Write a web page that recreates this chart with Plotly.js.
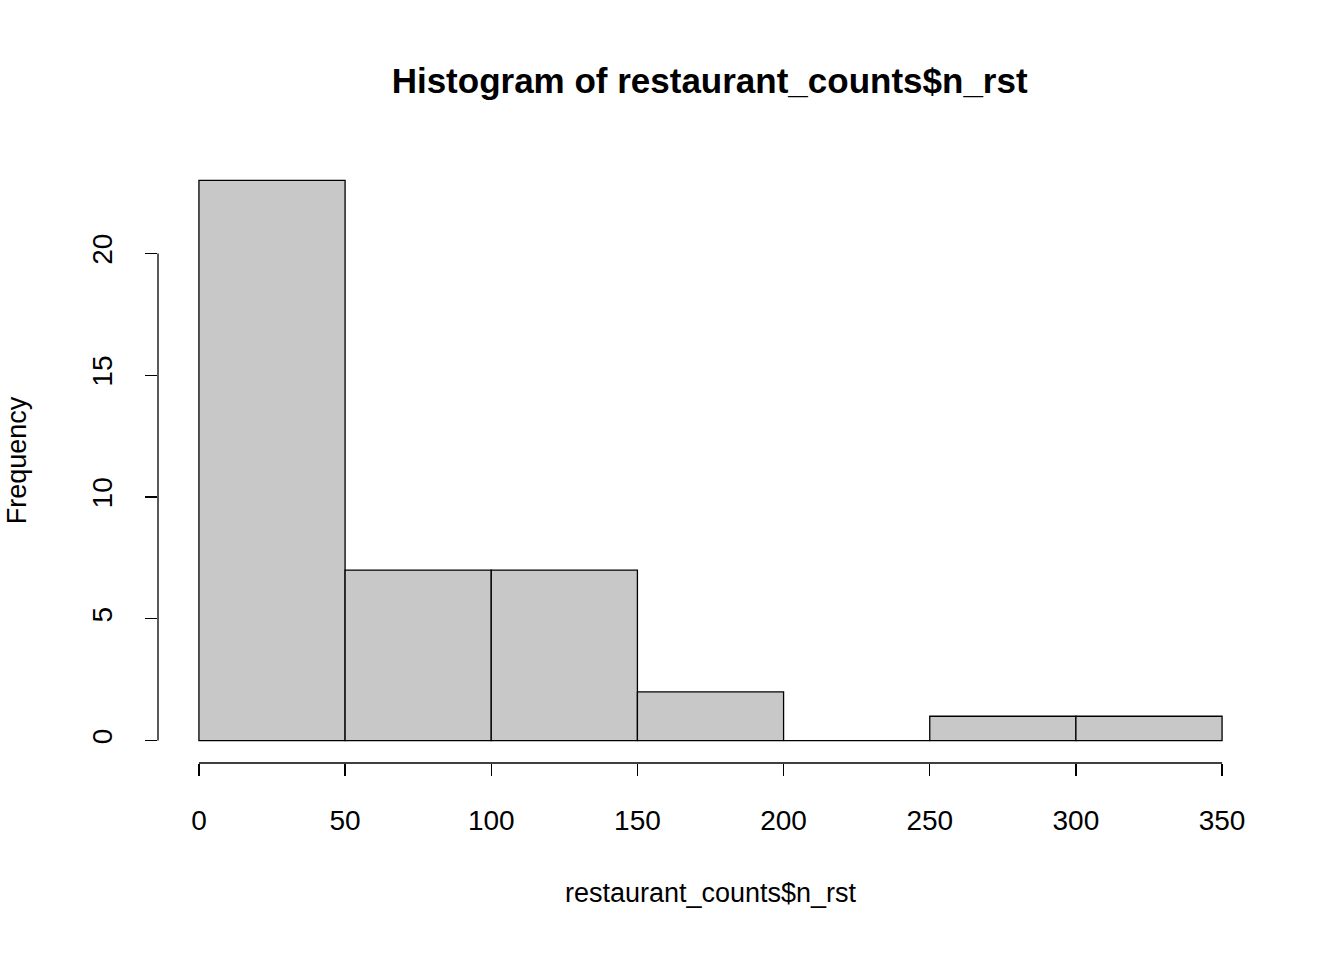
<!DOCTYPE html>
<html>
<head>
<script src="https://cdn.plot.ly/plotly-3.0.1.min.js"></script>
<style>body{margin:0;background:#fff}</style>
</head>
<body>
<div id="chart" style="width:1344px;height:960px"></div>
<script>
// Histogram bins (left edges) and counts
const binStarts = [0, 50, 100, 150, 200, 250, 300];
const binWidth = 50;
const counts = [23, 7, 7, 2, 0, 1, 1];
const xTicks = [0, 50, 100, 150, 200, 250, 300, 350];
const yTicks = [0, 5, 10, 15, 20];

const xRange = [-14, 364];
const yRange = [-0.92, 23.92];

const trace = {
  type: 'bar',
  x: binStarts.map(b => b + binWidth / 2),
  y: counts,
  width: binWidth,
  marker: {color: '#c8c8c8', line: {color: '#000', width: 1.3}},
  hoverinfo: 'x+y'
};

// axis lines only span the tick range, like base R
const shapes = [
  {type: 'line', xref: 'x', yref: 'paper', x0: xTicks[0], x1: xTicks[xTicks.length - 1], y0: 0, y1: 0, line: {color: '#000', width: 1.3}},
  {type: 'line', xref: 'paper', yref: 'y', x0: 0, x1: 0, y0: yTicks[0], y1: yTicks[yTicks.length - 1], line: {color: '#000', width: 1.3}}
];

const font = {family: 'Liberation Sans, Arial, sans-serif', color: '#000', size: 28};

const layout = {
  width: 1344, height: 960,
  margin: {l: 158, r: 81, t: 158, b: 197},
  paper_bgcolor: '#fff', plot_bgcolor: '#fff',
  font: font,
  showlegend: false,
  bargap: 0,
  title: {text: '<b>Histogram of restaurant_counts$n_rst</b>', x: 0.528, xanchor: 'center', y: 0.916, yanchor: 'middle', font: {size: 35}},
  xaxis: {
    range: xRange, tickvals: xTicks, ticktext: xTicks.map(String),
    ticks: 'outside', ticklen: 12, tickwidth: 1.3, tickcolor: '#000',
    ticklabelstandoff: 20,
    showgrid: false, zeroline: false, showline: false, fixedrange: true,
    title: {text: 'restaurant_counts$n_rst', standoff: 48, font: {size: 27}}
  },
  yaxis: {
    range: yRange, tickvals: yTicks, ticktext: yTicks.map(String),
    ticks: 'outside', ticklen: 12, tickwidth: 1.3, tickcolor: '#000', tickangle: -90,
    ticklabelstandoff: 22,
    showgrid: false, zeroline: false, showline: false, fixedrange: true,
    title: {text: 'Frequency', standoff: 52, font: {size: 27}}
  },
  shapes: shapes
};

Plotly.newPlot('chart', [trace], layout, {displayModeBar: false, staticPlot: true});
</script>
</body>
</html>
